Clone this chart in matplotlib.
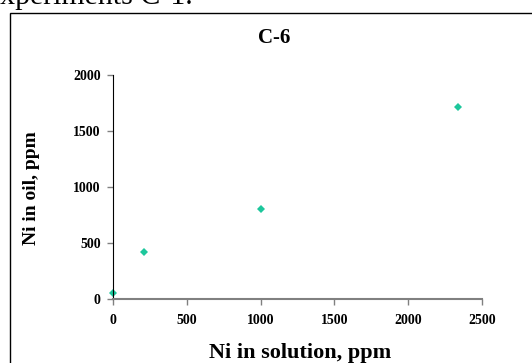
import matplotlib
matplotlib.use("Agg")
import matplotlib.pyplot as plt
from matplotlib.patches import Rectangle

ni_solution = [0, 210, 1000, 2340]
ni_oil = [57, 416, 805, 1720]
x_ticks = [0, 500, 1000, 1500, 2000, 2500]
y_ticks = [0, 500, 1000, 1500, 2000]

plt.rcParams['font.family'] = ['Liberation Serif', 'DejaVu Serif']

W, H = 532, 363
fig = plt.figure(figsize=(W/100, H/100), dpi=100)

# outer chart frame (extends past image edges)
fig.patches.append(Rectangle((9.5/W, -0.1), 1.2, 1 - 12.5/H + 0.1,
                             transform=fig.transFigure, fill=False,
                             edgecolor='black', linewidth=1.0))

# clipped caption text above
fig.text(193/W, 1 - 4.5/H, "experiments C-1.", ha='right', va='baseline',
         fontsize=21.5)

ax = fig.add_axes([113.3/W, 1 - 299/H, (481.8 - 113.3)/W, (299 - 75.3)/H])
ax.plot(ni_solution, ni_oil, linestyle='none', marker='D', markersize=4.5,
        color='#1DC79C', markeredgewidth=0, clip_on=False)
ax.set_xlim(0, 2500)
ax.set_ylim(0, 2000)
ax.set_xticks(x_ticks)
ax.set_yticks(y_ticks)
ax.spines['top'].set_visible(False)
ax.spines['right'].set_visible(False)
ax.spines['left'].set_color('black')
ax.spines['bottom'].set_color('#808080')
ax.spines['bottom'].set_linewidth(1.5)
ax.tick_params(axis='y', direction='out', length=4, width=1, color='#808080',
               labelsize=10, pad=5)
ax.tick_params(axis='x', direction='out', length=4, width=1, color='#808080',
               labelsize=10, pad=7)
for lbl in ax.get_xticklabels() + ax.get_yticklabels():
    lbl.set_fontweight('bold')

fig.text(274/W, 1 - 38/H, "C-6", ha='center', va='center', fontsize=15,
         fontweight='bold')
fig.text(300/W, 1 - 353/H, "Ni in solution, ppm", ha='center', va='center',
         fontsize=16, fontweight='bold')
fig.text(32/W, 1 - 188/H, "Ni in oil, ppm", ha='center', va='center',
         rotation=90, fontsize=14, fontweight='bold')

fig.savefig("out.png", dpi=100)
